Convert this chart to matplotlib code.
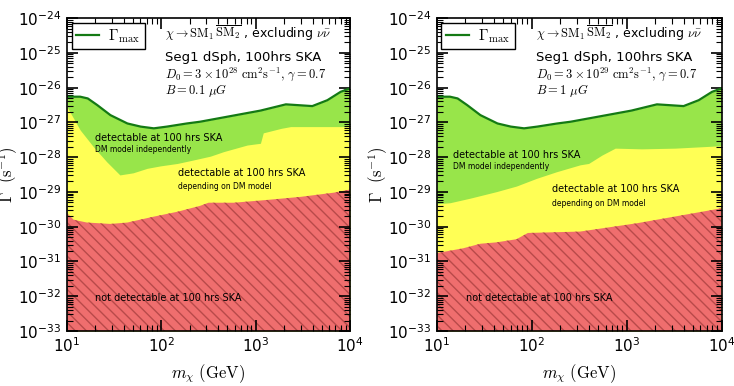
import numpy as np
import matplotlib
matplotlib.use("Agg")
import matplotlib.pyplot as plt
from matplotlib.ticker import LogLocator, NullFormatter

plt.rcParams["hatch.color"] = "#b84a4a"
plt.rcParams["hatch.linewidth"] = 1.0

# Gamma_max curve (same for both panels), log10(m / GeV) vs log10(Gamma / s^-1)
gmax_logm = [1.0, 1.14, 1.22, 1.32, 1.46, 1.64, 1.78, 1.92, 2.06, 2.27, 2.41,
             2.69, 3.05, 3.32, 3.60, 3.76, 3.90, 4.0]
gmax_logg = [-26.26, -26.26, -26.31, -26.50, -26.79, -27.03, -27.12, -27.17,
             -27.12, -27.03, -26.98, -26.84, -26.66, -26.48, -26.53, -26.36,
             -26.12, -26.02]

# left panel: D0 = 3e28, B = 0.1 muG
gy_logm_a = [1.0, 1.14, 1.28, 1.42, 1.56, 1.70, 1.85, 1.99, 2.17, 2.34, 2.52,
             2.66, 2.91, 3.05, 3.08, 3.27, 3.37, 4.0]
gy_logg_a = [-26.55, -27.22, -27.70, -28.13, -28.51, -28.45, -28.32, -28.25,
             -28.18, -28.08, -27.97, -27.84, -27.65, -27.60, -27.30, -27.17,
             -27.12, -27.12]
yr_logm_a = [1.0, 1.07, 1.21, 1.46, 1.64, 1.92, 2.17, 2.41, 2.50, 2.77, 3.12,
             3.48, 3.83, 4.0]
yr_logg_a = [-29.61, -29.80, -29.88, -29.92, -29.88, -29.71, -29.57, -29.40,
             -29.31, -29.31, -29.23, -29.14, -29.02, -28.93]

# right panel: D0 = 3e29, B = 1 muG
gy_logm_b = [1.0, 1.14, 1.35, 1.63, 1.84, 2.05, 2.26, 2.51, 2.60, 2.74, 2.88,
             3.16, 3.51, 4.0]
gy_logg_b = [-29.34, -29.31, -29.18, -28.99, -28.83, -28.61, -28.42, -28.22,
             -28.18, -27.94, -27.74, -27.76, -27.74, -27.67]
yr_logm_b = [1.0, 1.28, 1.46, 1.63, 1.84, 1.96, 2.51, 3.11, 4.0]
yr_logg_b = [-30.76, -30.62, -30.49, -30.45, -30.36, -30.18, -30.14, -29.90,
             -29.47]

GREEN_FILL = "#98e54a"
YELLOW = "#ffff55"
RED = "#ef6e6e"
LINE_GREEN = "#147a14"


def draw_panel(ax, gy_m, gy_g, yr_m, yr_g, d0_text, b_text, txt_pos):
    m_max = 10 ** np.array(gmax_logm)
    g_max = 10 ** np.array(gmax_logg)
    ax.fill_between(m_max, 1e-33, g_max, color=GREEN_FILL, lw=0)
    ax.fill_between(10 ** np.array(gy_m), 1e-33, 10 ** np.array(gy_g),
                    color=YELLOW, lw=0)
    ax.fill_between(10 ** np.array(yr_m), 1e-33, 10 ** np.array(yr_g),
                    facecolor=RED, edgecolor="#b84a4a", hatch="\\\\\\", lw=0)
    ax.plot(m_max, g_max, color=LINE_GREEN, lw=1.6, label=r"$\Gamma_{\max}$")

    ax.set_xscale("log")
    ax.set_yscale("log")
    ax.set_xlim(10, 1e4)
    ax.set_ylim(1e-33, 1e-24)
    ax.yaxis.set_major_locator(LogLocator(base=10, numticks=20))
    ax.yaxis.set_minor_locator(LogLocator(base=10, subs=np.arange(2, 10), numticks=20))
    ax.yaxis.set_minor_formatter(NullFormatter())
    ax.xaxis.set_minor_formatter(NullFormatter())
    ax.tick_params(which="both", direction="in", top=True, right=True)
    ax.tick_params(which="major", length=8, width=1.2, labelsize=11, pad=4)
    ax.tick_params(which="minor", length=4, width=0.8)
    for sp in ax.spines.values():
        sp.set_linewidth(1.2)

    ax.set_xlabel(r"$m_\chi\ (\mathrm{GeV})$", fontsize=12, math_fontfamily="cm")
    ax.set_ylabel(r"$\Gamma\ \ (\mathrm{s}^{-1})$", fontsize=12, math_fontfamily="cm")
    ax.xaxis.set_label_coords(0.5, -0.1)
    ax.yaxis.set_label_coords(-0.165, 0.5)

    leg = ax.legend(loc="upper left", fancybox=False, edgecolor="black",
                    framealpha=1, handlelength=1.5, borderpad=0.3,
                    handletextpad=0.6, borderaxespad=0.3,
                    prop={"size": 11, "math_fontfamily": "cm"})
    leg.get_frame().set_linewidth(1.0)

    tx = 0.347
    ax.text(tx, 0.952, r"$\chi\rightarrow\mathrm{SM}_1\,\overline{\mathrm{SM}_2}$ , excluding $\nu\bar{\nu}$",
            transform=ax.transAxes, fontsize=9, va="center", math_fontfamily="cm")
    ax.text(tx, 0.875, "Seg1 dSph, 100hrs SKA", transform=ax.transAxes,
            fontsize=9.5, va="center")
    ax.text(tx, 0.820, d0_text, transform=ax.transAxes, fontsize=9,
            va="center", math_fontfamily="cm")
    ax.text(tx, 0.768, b_text, transform=ax.transAxes, fontsize=9,
            va="center", math_fontfamily="cm")

    (gx, gy), (yx, yy), (nx, ny) = txt_pos
    ax.text(10 ** gx, 10 ** gy, "detectable at 100 hrs SKA", fontsize=7, va="center")
    ax.text(10 ** gx, 10 ** (gy - 0.33), "DM model independently", fontsize=5.5, va="center")
    ax.text(10 ** yx, 10 ** yy, "detectable at 100 hrs SKA", fontsize=7, va="center")
    ax.text(10 ** yx, 10 ** (yy - 0.4), "depending on DM model", fontsize=5.5, va="center")
    ax.text(10 ** nx, 10 ** ny, "not detectable at 100 hrs SKA", fontsize=7, va="center")


fig = plt.figure(figsize=(7.34, 3.86), dpi=100)
ax1 = fig.add_axes([0.0913, 0.1425, 0.3856, 0.8105])
ax2 = fig.add_axes([0.595, 0.1425, 0.388, 0.8105])

draw_panel(ax1, gy_logm_a, gy_logg_a, yr_logm_a, yr_logg_a,
           r"$D_0 = 3\times10^{28}\ \mathrm{cm}^2\mathrm{s}^{-1},\,\gamma = 0.7$",
           r"$B = 0.1\ \mu G$",
           [(1.30, -27.45), (2.18, -28.45), (1.30, -32.05)])
draw_panel(ax2, gy_logm_b, gy_logg_b, yr_logm_b, yr_logg_b,
           r"$D_0 = 3\times10^{29}\ \mathrm{cm}^2\mathrm{s}^{-1},\,\gamma = 0.7$",
           r"$B = 1\ \mu G$",
           [(1.17, -27.94), (2.21, -28.92), (1.31, -32.04)])

fig.savefig("out.png", dpi=100)
